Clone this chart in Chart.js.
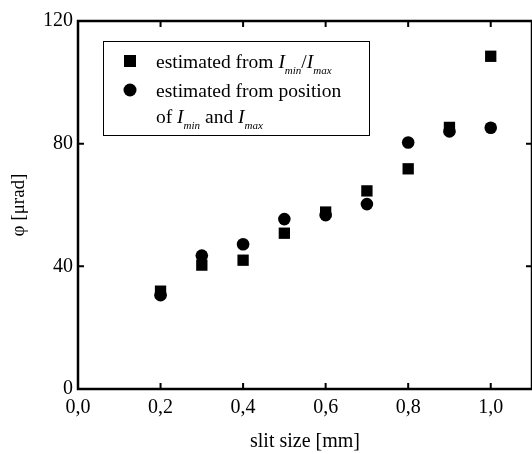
<!DOCTYPE html>
<html>
<head>
<meta charset="utf-8">
<script src="https://cdn.jsdelivr.net/npm/chart.js@4"></script>
<style>
  body { margin: 0; background: #fff; overflow: hidden; }
  #wrap { width: 540px; height: 454px; }
</style>
</head>
<body>
<div id="wrap"><canvas id="phiChart"></canvas></div>
<script>
const slitSizes = [0.2, 0.3, 0.4, 0.5, 0.6, 0.7, 0.8, 0.9, 1.0];
const phiFromRatio = [31.9, 40.4, 42, 50.8, 57.7, 64.6, 71.8, 85.3, 108.5];
const phiFromPosition = [30.6, 43.5, 47.2, 55.4, 56.7, 60.3, 80.4, 84, 85.2];
const xTicks = [0, 0.2, 0.4, 0.6, 0.8, 1.0];
const yTicks = [0, 40, 80, 120];

const serif = '"Liberation Serif", "Times New Roman", serif';

function toPoints(xs, ys) {
    return xs.map(function(x, i) { return { x: x, y: ys[i] }; });
}

// frame + inward ticks on all four sides
const framePlugin = {
    id: 'frame',
    afterDraw: function(chart) {
        const c = chart.ctx;
        const a = chart.chartArea;
        const xs = chart.scales.x, ys = chart.scales.y;
        c.save();
        c.strokeStyle = '#000';
        c.lineWidth = 2.5;
        c.strokeRect(a.left, a.top, a.right - a.left, a.bottom - a.top);
        c.lineWidth = 2;
        xTicks.forEach(function(v) {
            const px = xs.getPixelForValue(v);
            c.beginPath();
            c.moveTo(px, a.bottom); c.lineTo(px, a.bottom - 6);
            c.moveTo(px, a.top); c.lineTo(px, a.top + 6);
            c.stroke();
        });
        yTicks.forEach(function(v) {
            const py = ys.getPixelForValue(v);
            c.beginPath();
            c.moveTo(a.left, py); c.lineTo(a.left + 6, py);
            c.moveTo(a.right, py); c.lineTo(a.right - 6, py);
            c.stroke();
        });
        c.restore();
    }
};

// legend box with italic subscripted symbols
const legendPlugin = {
    id: 'boxLegend',
    afterDraw: function(chart) {
        const c = chart.ctx;
        c.save();
        c.strokeStyle = '#000';
        c.lineWidth = 1;
        c.strokeRect(103.5, 41.5, 266, 94);
        c.fillStyle = '#000';
        c.fillRect(124, 55, 12, 12);
        c.beginPath();
        c.arc(130, 90, 6.5, 0, Math.PI * 2);
        c.fill();

        function run(parts, x, y) {
            parts.forEach(function(p) {
                if (p.sub) {
                    c.font = 'italic 11px ' + serif;
                    c.fillText(p.t, x, y + 6);
                } else {
                    c.font = (p.it ? 'italic ' : '') + '19.5px ' + serif;
                    c.fillText(p.t, x, y);
                }
                x += c.measureText(p.t).width;
            });
        }
        c.textBaseline = 'alphabetic';
        run([{ t: 'estimated from ' }, { t: 'I', it: true }, { t: 'min', sub: true },
             { t: '/' }, { t: 'I', it: true }, { t: 'max', sub: true }], 156, 68);
        run([{ t: 'estimated from position' }], 156, 97);
        run([{ t: 'of ' }, { t: 'I', it: true }, { t: 'min', sub: true },
             { t: ' and ' }, { t: 'I', it: true }, { t: 'max', sub: true }], 156, 123);
        c.restore();
    }
};

new Chart(document.getElementById('phiChart'), {
    type: 'scatter',
    data: {
        datasets: [{
            label: 'estimated from Imin/Imax',
            data: toPoints(slitSizes, phiFromRatio),
            pointStyle: 'rect',
            pointRadius: 8,
            backgroundColor: '#000',
            borderWidth: 0
        }, {
            label: 'estimated from position of Imin and Imax',
            data: toPoints(slitSizes, phiFromPosition),
            pointStyle: 'circle',
            pointRadius: 6.3,
            backgroundColor: '#000',
            borderWidth: 0
        }]
    },
    options: {
        responsive: true,
        maintainAspectRatio: false,
        animation: false,
        layout: { padding: { top: 21, right: 2, left: 0, bottom: 0 } },
        plugins: { legend: { display: false }, tooltip: { enabled: false } },
        scales: {
            x: {
                type: 'linear',
                min: 0,
                max: 1.1,
                afterBuildTicks: function(axis) {
                    axis.ticks = xTicks.map(function(v) { return { value: v }; });
                },
                afterFit: function(axis) { axis.height = 65; },
                grid: { display: false, drawTicks: false },
                border: { display: false },
                ticks: {
                    color: '#000',
                    padding: 7,
                    maxRotation: 0,
                    font: { family: serif, size: 20 },
                    callback: function(v) { return v.toFixed(1).replace('.', ','); }
                },
                title: {
                    display: true,
                    text: 'slit size [mm]',
                    color: '#000',
                    padding: { top: 12, bottom: 0 },
                    font: { family: serif, size: 20 }
                }
            },
            y: {
                min: 0,
                max: 120,
                afterBuildTicks: function(axis) {
                    axis.ticks = yTicks.map(function(v) { return { value: v }; });
                },
                afterFit: function(axis) { axis.width = 78; },
                grid: { display: false, drawTicks: false },
                border: { display: false },
                ticks: {
                    color: '#000',
                    padding: 5,
                    font: { family: serif, size: 20 }
                },
                title: {
                    display: true,
                    text: 'φ [μrad]',
                    color: '#000',
                    padding: { top: 8, bottom: 0 },
                    font: { family: serif, size: 19 }
                }
            }
        }
    },
    plugins: [framePlugin, legendPlugin]
});
</script>
</body>
</html>
